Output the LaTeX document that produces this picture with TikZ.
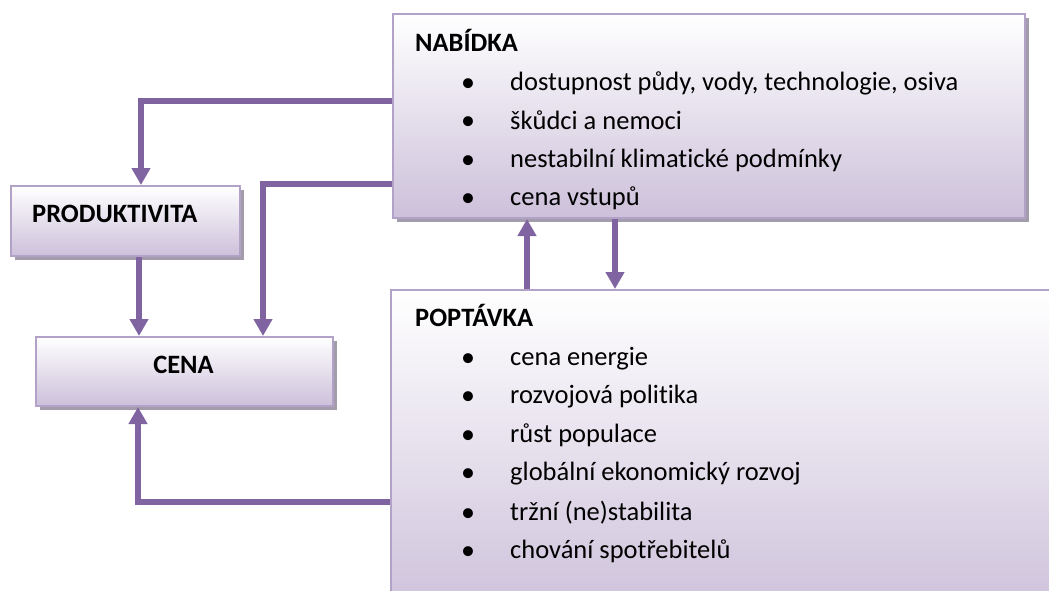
\documentclass[tikz,border=0pt]{standalone}
\usepackage{fontspec}
\setmainfont{Carlito}[Ligatures=NoCommon]
\usetikzlibrary{arrows.meta,shadows}
\definecolor{arrowc}{HTML}{8064A2}
\definecolor{boxline}{HTML}{B3A2C7}
\definecolor{boxbot}{HTML}{CCC0DA}
\definecolor{shadowc}{HTML}{A39DAB}
\begin{document}
\begin{tikzpicture}[x=1pt,y=-1pt,
  box/.style={draw=boxline, line width=2pt, top color=white, bottom color=boxbot,
    anchor=north west, inner sep=0pt,
    drop shadow={shadow xshift=4pt, shadow yshift=-4pt, fill=shadowc, opacity=1}},
  head/.style={font=\fontsize{26.5}{30}\selectfont\bfseries, inner sep=0pt, anchor=base west},
  item/.style={font=\fontsize{26.5}{30}\selectfont, inner sep=0pt, anchor=base west},
  dot/.style={font=\fontsize{28}{32}\selectfont, inner sep=0pt, anchor=base, yshift=-1pt},
  arr/.style={draw=arrowc, line width=5.5pt, -{Triangle[width=18pt,length=17pt]}}]
\clip (0,0) rectangle (1049,591);
\useasboundingbox (0,0) rectangle (1049,591);

% boxes
\node[box, minimum width=632pt, minimum height=204pt] (nab) at (392,13) {};
\node[box, minimum width=229pt, minimum height=70pt] (prod) at (10,185) {};
\node[box, minimum width=297pt, minimum height=69pt] (cena) at (35,336) {};
\node[box, minimum width=700pt, minimum height=330pt] (pop) at (390,289) {};

% NABIDKA texts
\node[head] (nabh) at (415,52) {NABÍDKA};
\node[dot] (nd1) at (468,91) {•};
\node[item] (n1) at (510,91) {dostupnost půdy, vody, technologie, osiva};
\node[dot] (nd2) at (468,129) {•};
\node[item] (n2) at (510,129) {škůdci a nemoci};
\node[dot] (nd3) at (468,167) {•};
\node[item] (n3) at (510,167) {nestabilní klimatické podmínky};
\node[dot] (nd4) at (468,205) {•};
\node[item] (n4) at (510,205) {cena vstupů};

% PRODUKTIVITA, CENA
\node[head] (prodt) at (32,222) {PRODUKTIVITA};
\node[head, anchor=base] (cenat) at (183.5,373) {CENA};

% POPTAVKA texts
\node[head] (poph) at (415,326) {POPTÁVKA};
\node[dot] (pd1) at (468,365) {•};
\node[item] (p1) at (510,365) {cena energie};
\node[dot] (pd2) at (468,403) {•};
\node[item] (p2) at (510,403) {rozvojová politika};
\node[dot] (pd3) at (468,442) {•};
\node[item] (p3) at (510,442) {růst populace};
\node[dot] (pd4) at (468,480) {•};
\node[item] (p4) at (510,480) {globální ekonomický rozvoj};
\node[dot] (pd5) at (468,520) {•};
\node[item] (p5) at (510,520) {tržní (ne)stabilita};
\node[dot] (pd6) at (468,558) {•};
\node[item] (p6) at (510,558) {chování spotřebitelů};

% connectors
\draw[arr] (nab.west |- 0,101) -| (prod.north -| 141,0);
\draw[arr] (nab.west |- 0,184) -| (cena.north -| 263,0);
\draw[arr] (prod.south -| 139,0) -- (cena.north -| 139,0);
\draw[arr] (pop.west |- 0,502) -| (cena.south -| 138,0);
\draw[arr] (pop.north -| 527,0) -- (nab.south -| 527,0);
\draw[arr] (nab.south -| 615,0) -- (pop.north -| 615,0);
\end{tikzpicture}
\end{document}
